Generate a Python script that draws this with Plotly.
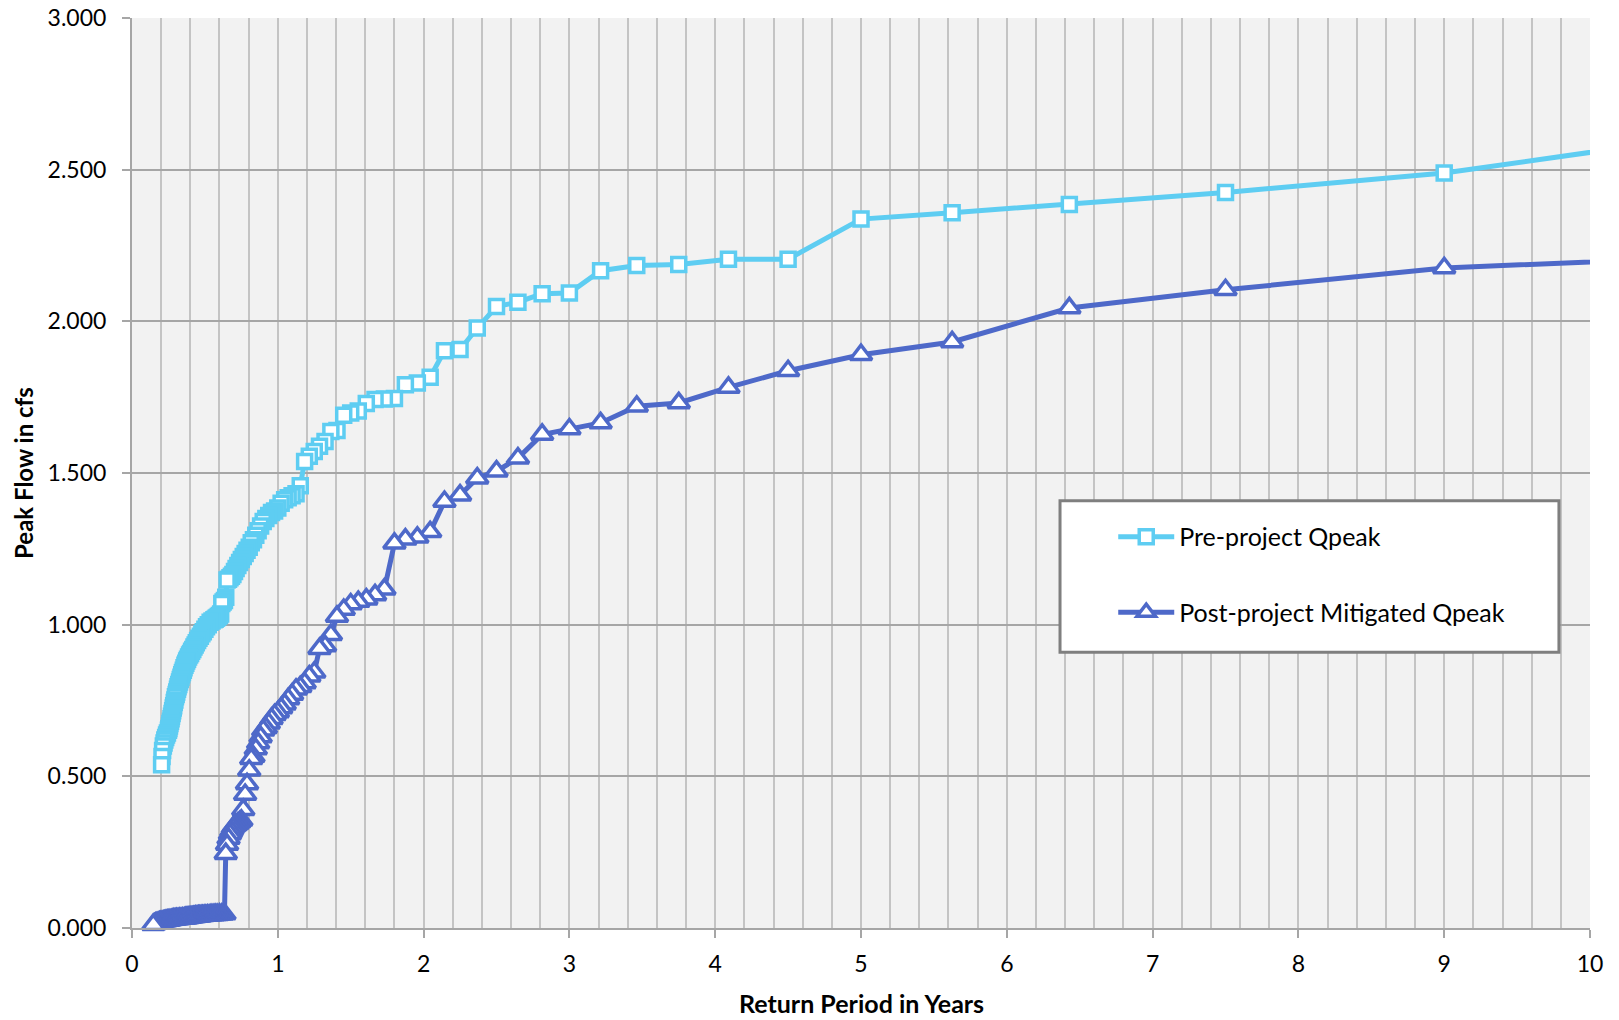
import plotly.graph_objects as go

# Return period (years) and peak flow (cfs), largest events first
pre_x = [11.25, 9.0, 7.5, 6.429, 5.625, 5.0, 4.5, 4.091, 3.75, 3.462, 3.214, 3.0, 2.813, 2.647, 2.5,
         2.368, 2.25, 2.143, 2.045, 1.957, 1.875, 1.8, 1.731, 1.667, 1.607, 1.552, 1.5, 1.452, 1.406,
         1.364, 1.324, 1.286, 1.25, 1.216, 1.184, 1.154, 1.125, 1.098, 1.071, 1.047, 1.023, 1.0,
         0.978, 0.957, 0.938, 0.918, 0.9, 0.882, 0.865, 0.849, 0.833, 0.818, 0.804, 0.789, 0.776,
         0.763, 0.75, 0.738, 0.726, 0.714, 0.703, 0.692, 0.682, 0.672, 0.662, 0.652, 0.643, 0.634,
         0.625, 0.616, 0.608, 0.6, 0.592, 0.584, 0.577, 0.57, 0.562, 0.549, 0.536, 0.523, 0.511, 0.5,
         0.489, 0.479, 0.469, 0.459, 0.45, 0.441, 0.433, 0.425, 0.417, 0.409, 0.402, 0.395, 0.388,
         0.381, 0.375, 0.369, 0.363, 0.357, 0.352, 0.346, 0.341, 0.336, 0.331, 0.326, 0.321, 0.316,
         0.312, 0.307, 0.303, 0.298, 0.294, 0.29, 0.286, 0.283, 0.279, 0.275, 0.271, 0.268, 0.264,
         0.26, 0.257, 0.253, 0.25, 0.243, 0.237, 0.231, 0.225, 0.22, 0.215, 0.21, 0.206, 0.203]
pre_y = [2.642, 2.489, 2.425, 2.385, 2.358, 2.337, 2.205, 2.205, 2.187, 2.184, 2.167, 2.093, 2.091,
         2.063, 2.049, 1.978, 1.907, 1.903, 1.816, 1.797, 1.791, 1.746, 1.744, 1.742, 1.729, 1.704,
         1.698, 1.690, 1.640, 1.637, 1.604, 1.588, 1.571, 1.555, 1.538, 1.458, 1.432, 1.425, 1.418,
         1.412, 1.400, 1.385, 1.375, 1.370, 1.360, 1.350, 1.340, 1.325, 1.310, 1.295, 1.280, 1.270,
         1.255, 1.245, 1.235, 1.225, 1.215, 1.205, 1.195, 1.185, 1.175, 1.165, 1.160, 1.155, 1.150,
         1.147, 1.090, 1.080, 1.075, 1.070, 1.035, 1.030, 1.027, 1.024, 1.021, 1.018, 1.016, 1.012,
         1.008, 1.000, 0.993, 0.985, 0.977, 0.970, 0.962, 0.955, 0.948, 0.940, 0.933, 0.926, 0.918,
         0.912, 0.905, 0.900, 0.893, 0.886, 0.880, 0.873, 0.866, 0.858, 0.850, 0.842, 0.835, 0.827,
         0.819, 0.811, 0.803, 0.795, 0.787, 0.778, 0.770, 0.762, 0.752, 0.743, 0.733, 0.725, 0.716,
         0.707, 0.698, 0.690, 0.682, 0.674, 0.666, 0.658, 0.652, 0.643, 0.636, 0.628, 0.620, 0.610,
         0.600, 0.585, 0.565, 0.538]

post_x = [11.25, 9.0, 7.5, 6.429, 5.625, 5.0, 4.5, 4.091, 3.75, 3.462, 3.214, 3.0, 2.813, 2.647, 2.5,
          2.368, 2.25, 2.143, 2.045, 1.957, 1.875, 1.8, 1.731, 1.667, 1.607, 1.552, 1.5, 1.452, 1.406,
          1.364, 1.324, 1.286, 1.25, 1.216, 1.184, 1.154, 1.125, 1.098, 1.071, 1.047, 1.023, 1.0,
          0.978, 0.957, 0.938, 0.918, 0.9, 0.882, 0.865, 0.849, 0.833, 0.818, 0.804, 0.789, 0.776,
          0.763, 0.75, 0.738, 0.726, 0.714, 0.703, 0.692, 0.682, 0.672, 0.662, 0.652, 0.643, 0.634,
          0.616, 0.6, 0.584, 0.57, 0.556, 0.542, 0.529, 0.517, 0.506, 0.495, 0.484, 0.474, 0.464,
          0.455, 0.446, 0.437, 0.429, 0.421, 0.413, 0.405, 0.398, 0.391, 0.384, 0.377, 0.37, 0.364,
          0.357, 0.346, 0.336, 0.326, 0.316, 0.306, 0.296, 0.287, 0.278, 0.269, 0.26, 0.251, 0.242,
          0.233, 0.224, 0.215, 0.206, 0.197, 0.188, 0.179, 0.17, 0.162, 0.154, 0.146]
post_y = [2.221, 2.176, 2.104, 2.044, 1.932, 1.890, 1.837, 1.782, 1.731, 1.720, 1.665, 1.645, 1.627,
          1.549, 1.506, 1.483, 1.427, 1.406, 1.306, 1.288, 1.282, 1.268, 1.117, 1.098, 1.084, 1.076,
          1.068, 1.050, 1.027, 0.967, 0.930, 0.921, 0.843, 0.830, 0.808, 0.795, 0.787, 0.770, 0.755,
          0.738, 0.725, 0.712, 0.703, 0.690, 0.675, 0.660, 0.652, 0.630, 0.610, 0.590, 0.565, 0.558,
          0.520, 0.475, 0.440, 0.390, 0.355, 0.350, 0.345, 0.340, 0.337, 0.330, 0.320, 0.310, 0.295,
          0.275, 0.245, 0.046, 0.045, 0.045, 0.044, 0.044, 0.043, 0.043, 0.042, 0.042, 0.041, 0.041,
          0.040, 0.040, 0.039, 0.039, 0.038, 0.038, 0.037, 0.037, 0.036, 0.036, 0.035, 0.035, 0.034,
          0.034, 0.033, 0.033, 0.032, 0.032, 0.031, 0.031, 0.030, 0.030, 0.029, 0.029, 0.028, 0.027,
          0.026, 0.025, 0.025, 0.024, 0.023, 0.022, 0.021, 0.020, 0.019, 0.018, 0.016, 0.015, 0.013,
          0.011]

x_ticks = [0, 1, 2, 3, 4, 5, 6, 7, 8, 9, 10]
y_ticks = [0.0, 0.5, 1.0, 1.5, 2.0, 2.5, 3.0]

PRE_COLOR = "#5ECDF2"
POST_COLOR = "#4E69C9"
FONT = "Lato"

fig = go.Figure()
fig.add_trace(go.Scatter(
    x=pre_x, y=pre_y, mode="lines+markers", name="Pre-project Qpeak",
    legendgroup="a", cliponaxis=False,
    line=dict(color=PRE_COLOR, width=5),
    marker=dict(symbol="square", size=14, color="white", line=dict(color=PRE_COLOR, width=3.5)),
))
fig.add_trace(go.Scatter(
    x=post_x, y=post_y, mode="lines+markers", name="Post-project Mitigated Qpeak",
    legendgroup="b", cliponaxis=False,
    line=dict(color=POST_COLOR, width=5),
    marker=dict(symbol="triangle-up", size=19, color="white", line=dict(color=POST_COLOR, width=3.5)),
))

fig.update_layout(
    width=1619, height=1020,
    margin=dict(l=132, r=29, t=18, b=92, pad=0, autoexpand=False),
    paper_bgcolor="white",
    plot_bgcolor="#F2F2F2",
    font=dict(family=FONT, size=23, color="black"),
    showlegend=True,
    legend=dict(
        x=0.673, y=0.455, xanchor="left", yanchor="top",
        bgcolor="rgba(0,0,0,0)", borderwidth=0,
        font=dict(family=FONT, size=25, color="black"),
        traceorder="grouped", tracegroupgap=40, itemwidth=56,
    ),
    shapes=[dict(
        type="rect", xref="paper", yref="paper",
        x0=0.6365, x1=0.9787, y0=0.303, y1=0.4694,
        fillcolor="white", line=dict(color="#7F7F7F", width=3), layer="above",
    )],
    annotations=[
        dict(text="<b>Peak Flow in cfs</b>", xref="paper", yref="paper", x=-0.0748, y=0.5,
             xanchor="center", yanchor="middle", textangle=-90, showarrow=False,
             font=dict(family=FONT, size=24, color="black")),
        dict(text="<b>Return Period in Years</b>", xref="paper", yref="paper", x=0.5, y=-0.0826,
             xanchor="center", yanchor="middle", showarrow=False,
             font=dict(family=FONT, size=25, color="black")),
    ],
)

fig.update_xaxes(
    range=[0, 10], tickmode="array", tickvals=x_ticks, ticktext=[str(v) for v in x_ticks],
    automargin=False,
    showgrid=True, gridcolor="#C4C4C4", gridwidth=1.5,
    minor=dict(dtick=0.2, showgrid=True, gridcolor="#C4C4C4", gridwidth=1.5),
    showline=True, linecolor="#A6A6A6", linewidth=2, zeroline=False,
    ticks="outside", ticklen=8, tickcolor="#A6A6A6", tickwidth=2, ticklabelstandoff=6,
    tickfont=dict(family=FONT, size=23, color="black"),
)
fig.update_yaxes(
    range=[0, 3], tickmode="array", tickvals=y_ticks, ticktext=[f"{v:.3f}" for v in y_ticks],
    automargin=False,
    showgrid=True, gridcolor="#A6A6A6", gridwidth=2,
    showline=True, linecolor="#A6A6A6", linewidth=2, zeroline=False,
    ticks="outside", ticklen=8, tickcolor="#A6A6A6", tickwidth=2, ticklabelstandoff=11,
    tickfont=dict(family=FONT, size=23, color="black"),
)

fig.write_html("out.html", config={"displayModeBar": False},
               post_script="document.body.style.margin='0';")
